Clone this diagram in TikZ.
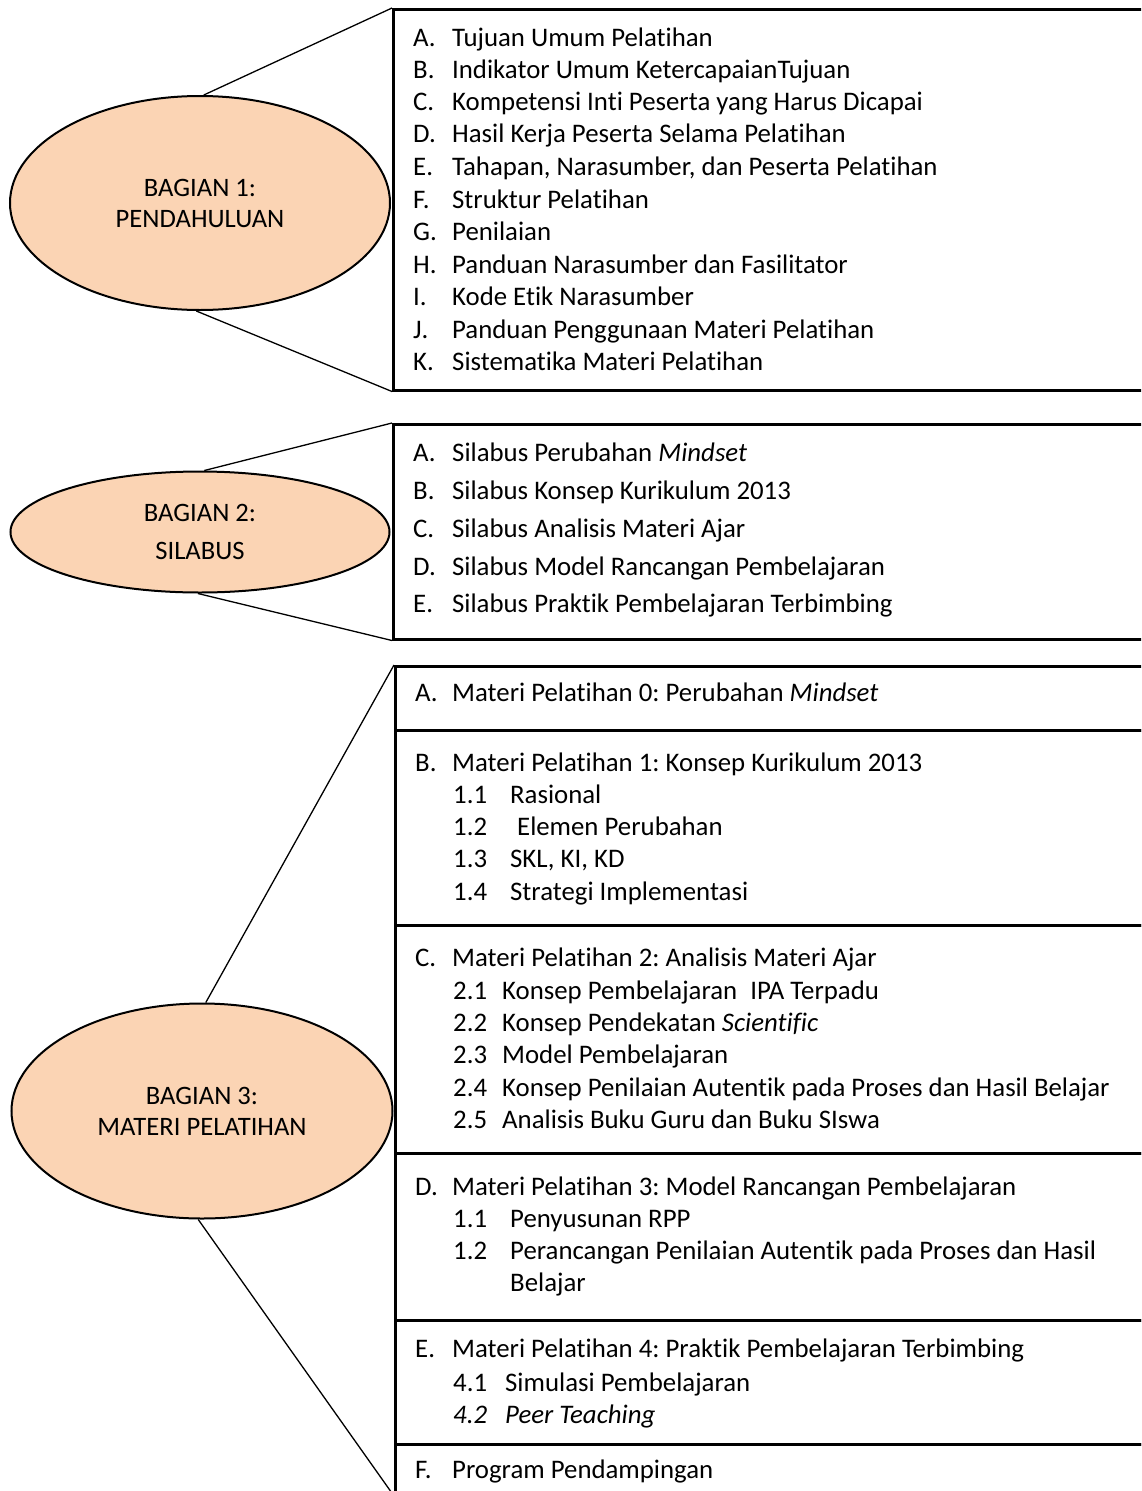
\documentclass[tikz,border=0pt]{standalone}
\usepackage{fontspec}
\setmainfont{Carlito}[RawFeature={-liga;-clig;-calt;-dlig}]
\usetikzlibrary{shapes.geometric}
\definecolor{peach}{HTML}{FBD4B4}
\newcommand\itemlbl[2]{\makebox[#1][l]{#2}}
\frenchspacing
\begin{document}
\begin{tikzpicture}[x=1pt,y=-1pt,
  txt/.style={anchor=base west, inner sep=0pt, font=\fontsize{26.8}{31}\selectfont},
  oval/.style={ellipse, draw, line width=2pt, fill=peach, inner sep=0pt, align=center},
  boxs/.style={draw, line width=2.5pt, rectangle, anchor=north west, inner sep=0pt},
  link/.style={line width=1.3pt}]
\useasboundingbox (0,0) rectangle (1141,1491);
\clip (0,0) rectangle (1141,1491);
\fill[white] (0,0) rectangle (1141,1491);

% ---------- Part 1 ----------
\node[boxs, minimum width=750pt, minimum height=381pt] (b1) at (392,8) {};
\node[oval, minimum width=380pt, minimum height=214pt, font=\fontsize{26.6}{31}\selectfont] (e1) at (200,203) {BAGIAN 1:\\PENDAHULUAN};
\draw[link] (e1.88) -- (b1.north west);
\draw[link] (e1.268) -- (b1.south west);

\node[txt] (p1a) at (413,46) {\itemlbl{39pt}{A.}Tujuan Umum Pelatihan};
\node[txt] (p1b) at (413,78) {\itemlbl{39pt}{B.}Indikator Umum KetercapaianTujuan};
\node[txt] (p1c) at (413,110) {\itemlbl{39pt}{C.}Kompetensi Inti Peserta yang Harus Dicapai};
\node[txt] (p1d) at (413,142) {\itemlbl{39pt}{D.}Hasil Kerja Peserta Selama Pelatihan};
\node[txt] (p1e) at (413,175) {\itemlbl{39pt}{E.}Tahapan, Narasumber, dan Peserta Pelatihan};
\node[txt] (p1f) at (413,208) {\itemlbl{39pt}{F.}Struktur Pelatihan};
\node[txt] (p1g) at (413,240) {\itemlbl{39pt}{G.}Penilaian};
\node[txt] (p1h) at (413,273) {\itemlbl{39pt}{H.}Panduan Narasumber dan Fasilitator};
\node[txt] (p1i) at (413,305) {\itemlbl{39pt}{I.}Kode Etik Narasumber};
\node[txt] (p1j) at (413,338) {\itemlbl{39pt}{J.}Panduan Penggunaan Materi Pelatihan};
\node[txt] (p1k) at (413,370) {\itemlbl{39pt}{K.}Sistematika Materi Pelatihan};

% ---------- Part 2 ----------
\node[boxs, minimum width=750pt, minimum height=215pt] (b2) at (392,423) {};
\node[oval, minimum width=379pt, minimum height=121pt, font=\fontsize{26.6}{38}\selectfont] (e2) at (200,532) {BAGIAN 2:\\SILABUS};
\draw[link] (e2.86) -- (b2.north west);
\draw[link] (e2.268) -- (b2.south west);

\node[txt] (p2a) at (413,461) {\itemlbl{39pt}{A.}Silabus Perubahan \textit{Mindset}};
\node[txt] (p2b) at (413,499) {\itemlbl{39pt}{B.}Silabus Konsep Kurikulum 2013};
\node[txt] (p2c) at (413,537) {\itemlbl{39pt}{C.}Silabus Analisis Materi Ajar};
\node[txt] (p2d) at (413,575) {\itemlbl{39pt}{D.}Silabus Model Rancangan Pembelajaran};
\node[txt] (p2e) at (413,612) {\itemlbl{39pt}{E.}Silabus Praktik Pembelajaran Terbimbing};

% ---------- Part 3 ----------
\node[boxs, minimum width=748pt, minimum height=64pt] (s3a) at (394,665) {};
\node[boxs, minimum width=748pt, minimum height=195pt] (s3b) at (394,729) {};
\node[boxs, minimum width=748pt, minimum height=228pt] (s3c) at (394,924) {};
\node[boxs, minimum width=748pt, minimum height=167pt] (s3d) at (394,1152) {};
\node[boxs, minimum width=748pt, minimum height=124pt] (s3e) at (394,1319) {};
\node[boxs, minimum width=748pt, minimum height=70pt] (s3f) at (394,1443) {};
\node[oval, minimum width=381pt, minimum height=215pt, font=\fontsize{26.6}{31}\selectfont] (e3) at (202,1111) {BAGIAN 3:\\MATERI PELATIHAN};
\coordinate (bot) at (394,1496);
\draw[link] (e3.88) -- (s3a.north west);
\draw[link] (e3.268) -- (bot);

\node[txt] (m3a) at (415,701) {\itemlbl{37pt}{A.}Materi Pelatihan 0: Perubahan \textit{Mindset}};

\node[txt] (m3b) at (415,771) {\itemlbl{37pt}{B.}Materi Pelatihan 1: Konsep Kurikulum 2013};
\node[txt] (m3b1) at (453,803) {\itemlbl{57pt}{1.1}Rasional};
\node[txt] (m3b2) at (453,835) {\itemlbl{57pt}{1.2}\hspace{7pt}Elemen Perubahan};
\node[txt] (m3b3) at (453,867) {\itemlbl{57pt}{1.3}SKL, KI, KD};
\node[txt] (m3b4) at (453,900) {\itemlbl{57pt}{1.4}Strategi Implementasi};

\node[txt] (m3c) at (415,966) {\itemlbl{37pt}{C.}Materi Pelatihan 2: Analisis Materi Ajar};
\node[txt] (m3c1) at (453,999) {\itemlbl{49pt}{2.1}Konsep Pembelajaran\hspace{7pt} IPA Terpadu};
\node[txt] (m3c2) at (453,1031) {\itemlbl{49pt}{2.2}Konsep Pendekatan \textit{Scientific}};
\node[txt] (m3c3) at (453,1063) {\itemlbl{49pt}{2.3}Model Pembelajaran};
\node[txt] (m3c4) at (453,1096) {\itemlbl{49pt}{2.4}Konsep Penilaian Autentik pada Proses dan Hasil Belajar};
\node[txt] (m3c5) at (453,1128) {\itemlbl{49pt}{2.5}Analisis Buku Guru dan Buku SIswa};

\node[txt] (m3d) at (415,1195) {\itemlbl{37pt}{D.}Materi Pelatihan 3: Model Rancangan Pembelajaran};
\node[txt] (m3d1) at (453,1227) {\itemlbl{57pt}{1.1}Penyusunan RPP};
\node[txt] (m3d2) at (453,1259) {\itemlbl{57pt}{1.2}Perancangan Penilaian Autentik pada Proses dan Hasil};
\node[txt] (m3d3) at (510,1291) {Belajar};

\node[txt] (m3e) at (415,1357) {\itemlbl{37pt}{E.}Materi Pelatihan 4: Praktik Pembelajaran Terbimbing};
\node[txt] (m3e1) at (453,1391) {\itemlbl{52pt}{4.1}Simulasi Pembelajaran};
\node[txt] (m3e2) at (453,1423) {\itemlbl{52pt}{\textit{4.2}}\textit{Peer Teaching}};

\node[txt] (m3f) at (415,1478) {\itemlbl{37pt}{F.}Program Pendampingan};
\end{tikzpicture}
\end{document}
